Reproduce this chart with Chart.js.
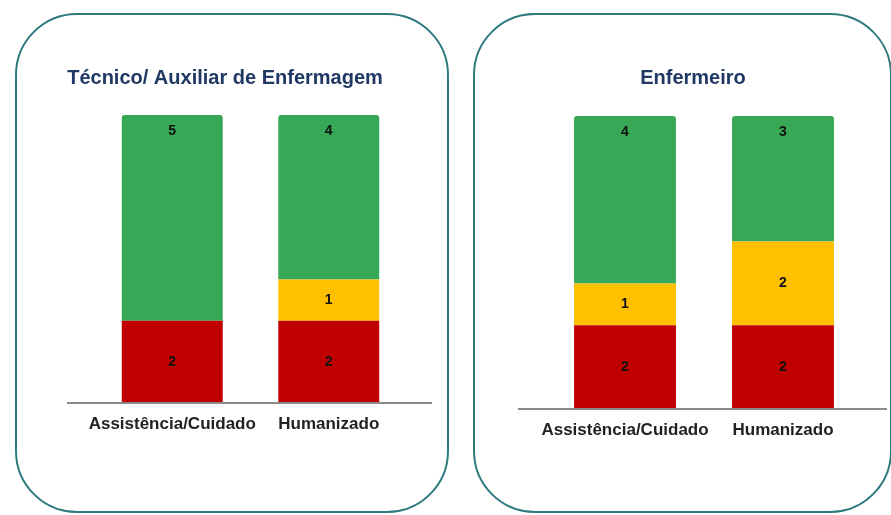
<!DOCTYPE html>
<html>
<head>
<meta charset="utf-8">
<script src="https://cdn.jsdelivr.net/npm/chart.js@4/dist/chart.umd.min.js"></script>
<style>
  html, body { margin: 0; padding: 0; background: #fff; overflow: hidden; }
  body { width: 891px; height: 515px; position: relative; font-family: "Liberation Sans", Arial, sans-serif; }
  .panel { position: absolute; border: 2px solid #2e7a7e; border-radius: 62px; box-sizing: border-box; }
  .box { position: absolute; top: 0; height: 515px; }
</style>
</head>
<body>
<div class="panel" style="left:15px; top:13px; width:434px; height:500px;"></div>
<div class="panel" style="left:473px; top:13px; width:419px; height:500px;"></div>
<div class="box" style="left:0; width:450px;"><canvas id="tecnicoChart"></canvas></div>
<div class="box" style="left:495px; width:396px;"><canvas id="enfermeiroChart"></canvas></div>
<script>
// categorias e valores
const categorias = ['Assistência/Cuidado', 'Humanizado'];

const tecnicoVermelho = [2, 2];
const tecnicoAmarelo = [0, 1];
const tecnicoVerde = [5, 4];

const enfermeiroVermelho = [2, 2];
const enfermeiroAmarelo = [1, 2];
const enfermeiroVerde = [4, 3];

const corVermelho = '#c00000';
const corAmarelo = '#ffc000';
const corVerde = '#37a856';

// título centrado no canvas, linha de base e valores no meio de cada segmento
const rotulosPlugin = {
    id: 'rotulos',
    afterDatasetsDraw(chart) {
        const ctx = chart.ctx;
        const area = chart.chartArea;
        const o = chart.options;
        const y0 = chart.scales.y.getPixelForValue(0);
        ctx.save();

        ctx.fillStyle = '#1f3864';
        ctx.font = 'bold 20px "Liberation Sans", Arial, sans-serif';
        ctx.textAlign = 'center';
        ctx.textBaseline = 'middle';
        ctx.fillText(o.tituloTexto, chart.width / 2, o.tituloY);

        ctx.strokeStyle = '#8a8a8a';
        ctx.lineWidth = 2;
        ctx.beginPath();
        ctx.moveTo(area.left - o.extraLeft, y0);
        ctx.lineTo(area.right + o.extraRight, y0);
        ctx.stroke();

        ctx.fillStyle = '#111';
        ctx.font = 'bold 14px "Liberation Sans", Arial, sans-serif';
        chart.data.datasets.forEach((ds, i) => {
            const meta = chart.getDatasetMeta(i);
            meta.data.forEach((bar, j) => {
                const v = ds.data[j];
                if (!v) return;
                const props = bar.getProps(['x', 'y', 'base'], true);
                let yText = (props.y + props.base) / 2;
                if (ds.labelTop) yText = props.y + 16;
                ctx.fillText(String(v), props.x, yText);
            });
        });
        ctx.restore();
    }
};

function criarGrafico(id, titulo, vermelho, amarelo, verde, cfg) {
    const ctx = document.getElementById(id).getContext('2d');
    return new Chart(ctx, {
        type: 'bar',
        data: {
            labels: categorias,
            datasets: [
                { data: vermelho, backgroundColor: corVermelho },
                { data: amarelo, backgroundColor: corAmarelo },
                { data: verde, backgroundColor: corVerde, labelTop: true,
                  borderRadius: { topLeft: 3, topRight: 3, bottomLeft: 0, bottomRight: 0 }, borderSkipped: false }
            ]
        },
        options: {
            responsive: false,
            animation: false,
            tituloTexto: titulo,
            tituloY: 78,
            extraLeft: cfg.extraLeft,
            extraRight: cfg.extraRight,
            layout: { padding: { left: cfg.left, right: cfg.right, top: cfg.top, bottom: cfg.bottom } },
            datasets: { bar: { categoryPercentage: 1, barPercentage: 0.645 } },
            plugins: {
                legend: { display: false },
                tooltip: { enabled: false },
                title: { display: false }
            },
            scales: {
                x: {
                    stacked: true,
                    grid: { display: false },
                    border: { display: false },
                    ticks: {
                        color: '#222',
                        padding: 3,
                        autoSkip: false,
                        maxRotation: 0,
                        minRotation: 0,
                        font: { family: '"Liberation Sans", Arial, sans-serif', size: 17, weight: 'bold' }
                    },
                    afterFit(scale) {
                        scale.height = 30;
                        scale.paddingLeft = 0;
                        scale.paddingRight = 0;
                    }
                },
                y: {
                    stacked: true,
                    display: false,
                    min: 0,
                    max: 7
                }
            }
        },
        plugins: [rotulosPlugin]
    });
}

function montar(id, largura, titulo, vermelho, amarelo, verde, cfg) {
    const canvas = document.getElementById(id);
    canvas.width = largura;
    canvas.height = 515;
    canvas.style.width = largura + 'px';
    canvas.style.height = '515px';
    criarGrafico(id, titulo, vermelho, amarelo, verde, cfg);
}

montar('tecnicoChart', 450, 'Técnico/ Auxiliar de Enfermagem', tecnicoVermelho, tecnicoAmarelo, tecnicoVerde,
    { left: 94, right: 43, top: 115, bottom: 515 - 403 - 30, extraLeft: 27, extraRight: 25 });

montar('enfermeiroChart', 396, 'Enfermeiro', enfermeiroVermelho, enfermeiroAmarelo, enfermeiroVerde,
    { left: 51, right: 29, top: 116, bottom: 515 - 409 - 30, extraLeft: 28, extraRight: 25 });
</script>
</body>
</html>
